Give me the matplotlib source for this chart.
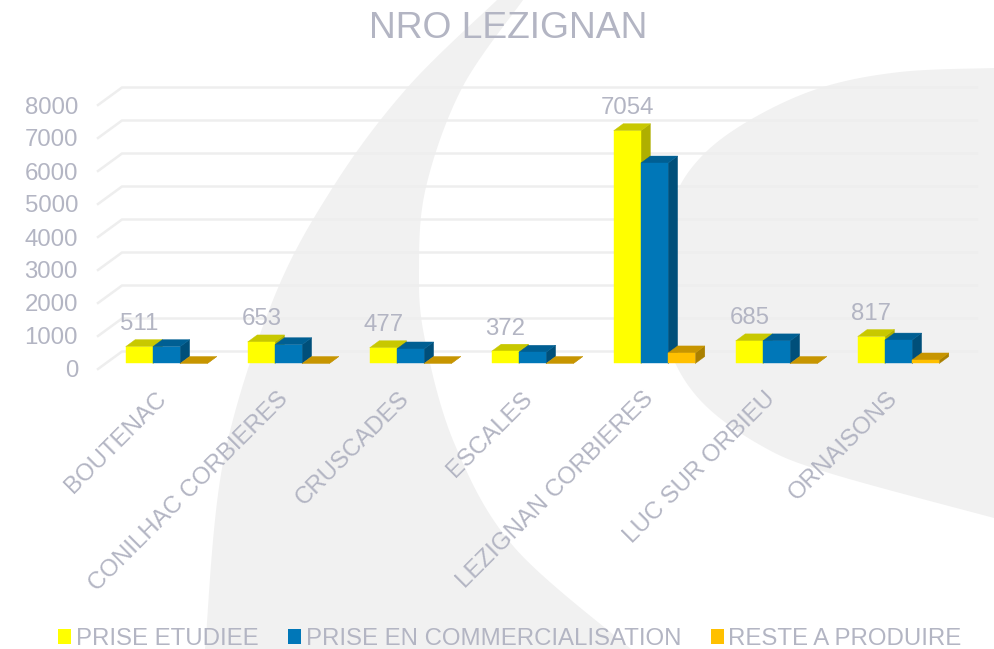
import numpy as np
import matplotlib
matplotlib.use('Agg')
from matplotlib import pyplot as plt
from matplotlib.patches import Polygon, Patch
from matplotlib.transforms import ScaledTranslation

categories = ['BOUTENAC', 'CONILHAC CORBIERES', 'CRUSCADES', 'ESCALES',
              'LEZIGNAN CORBIERES', 'LUC SUR ORBIEU', 'ORNAISONS']
prise_etudiee = [511, 653, 477, 372, 7054, 685, 817]
prise_commercialisation = [511, 570, 440, 340, 6075, 685, 710]
reste_a_produire = [0, 0, 0, 0, 320, 0, 107]
labels = ['PRISE ETUDIEE', 'PRISE EN COMMERCIALISATION', 'RESTE A PRODUIRE']
yticks = [0, 1000, 2000, 3000, 4000, 5000, 6000, 7000, 8000]

W, H = 994, 649
TEXT = '#b3b5c3'
GREY = '#f1f1f1'
GRID = '#eeeeee'
FS = 17.3

# front, top, side
colors = [('#ffff00', '#c8c800', '#afaf00'),
          ('#0077b8', '#005f93', '#004f7a'),
          ('#ffc000', '#c79500', '#aa8000')]

# background shapes, figure pixels
crescent_left = [(497, 0), (407, 88), (333, 187), (273, 300), (223, 463), (205, 649)]
crescent_right = [(631, 649), (514, 547), (455, 445), (425, 340), (419, 270), (426, 187),
                  (462, 88), (523, 0)]
swoosh = [(994, 68), (900, 72), (820, 88), (750, 120), (700, 158), (672, 205), (660, 280),
          (668, 345), (700, 400), (760, 445), (829, 473), (994, 518)]


def smooth(points, n=20):
    # catmull-rom through the points
    p = np.array([points[0]] + points + [points[-1]], dtype=float)
    out = []
    for i in range(1, len(p) - 2):
        for t in np.linspace(0, 1, n, endpoint=False):
            out.append(0.5 * (2 * p[i] + (p[i + 1] - p[i - 1]) * t
                              + (2 * p[i - 1] - 5 * p[i] + 4 * p[i + 1] - p[i + 2]) * t ** 2
                              + (3 * p[i] - p[i - 1] - 3 * p[i + 1] + p[i + 2]) * t ** 3))
    out.append(p[-2])
    return np.array(out)


def plot():
    plt.rcParams['font.family'] = ['Liberation Sans', 'DejaVu Sans']
    fig = plt.figure(figsize=(W / 100, H / 100), dpi=100)

    bg = fig.add_axes([0, 0, 1, 1], zorder=0)
    bg.set_xlim(0, W)
    bg.set_ylim(H, 0)
    bg.axis('off')
    bg.add_patch(Polygon(np.vstack([smooth(crescent_left), smooth(crescent_right)]), color=GREY, lw=0))
    bg.add_patch(Polygon(smooth(swoosh), color=GREY, lw=0))

    # axes covers the front edge of the floor up to the back wall
    px_y = 0.033
    ax = fig.add_axes([98 / W, 1 - 369 / H, (977 - 98) / W, (369 - 87.5) / H], zorder=1)
    ax.patch.set_alpha(0)
    ax.set_xlim((98 - 166.5) / 122, (977 - 166.5) / 122)
    ax.set_ylim(0, (369 - 87.5) / px_y)
    for s in ax.spines.values():
        s.set_visible(False)

    wall_x = (122 - 166.5) / 122
    wall_y = 17.5 / px_y
    for v in yticks:
        ax.plot([ax.get_xlim()[0], wall_x, ax.get_xlim()[1]], [v, v + wall_y, v + wall_y],
                color=GRID, lw=1.8, zorder=1, clip_on=False, solid_joinstyle='miter')

    base = 5.5 / px_y
    bw = 27.2 / 122
    dx = 9.5 / 122
    dy = 7 / px_y
    series = [prise_etudiee, prise_commercialisation, reste_a_produire]
    for i in range(len(categories)):
        for j in range(3):
            left = i - 1.5 * bw + j * bw
            right = left + bw
            y0 = base
            y1 = base + series[j][i]
            front, top, side = colors[j]
            z = 3 + i * 3 + j
            ax.add_patch(Polygon([(right, y0), (right + dx, y0 + dy), (right + dx, y1 + dy), (right, y1)],
                                 facecolor=side, edgecolor=side, lw=0.3, zorder=z))
            ax.add_patch(Polygon([(left, y1), (left + dx, y1 + dy), (right + dx, y1 + dy), (right, y1)],
                                 facecolor=top, edgecolor=top, lw=0.3, zorder=z))
            if series[j][i] > 0:
                ax.add_patch(Polygon([(left, y0), (right, y0), (right, y1), (left, y1)],
                                     facecolor=front, edgecolor=front, lw=0.3, zorder=z))
        ax.annotate(str(prise_etudiee[i]), (i - bw, base + prise_etudiee[i]), xytext=(0, 16.3),
                    textcoords='offset points', ha='center', va='center', color=TEXT,
                    fontsize=FS, zorder=40)

    ax.set_yticks(yticks)
    ax.set_xticks(range(len(categories)))
    ax.set_xticklabels(categories, rotation=45, ha='right', va='center', rotation_mode='anchor')
    ax.tick_params(axis='y', length=0, pad=14.4, labelcolor=TEXT, labelsize=FS)
    ax.tick_params(axis='x', length=0, pad=19, labelcolor=TEXT, labelsize=FS)
    shift = ScaledTranslation(-4 / 100, 0, fig.dpi_scale_trans)
    for lab in ax.get_xticklabels():
        lab.set_transform(lab.get_transform() + shift)

    fig.text(508 / W, 1 - 28 / H, 'NRO LEZIGNAN', ha='center', va='center', color=TEXT, fontsize=26.8)

    handles = [Patch(facecolor=colors[k][0], label=labels[k]) for k in range(3)]
    fig.legend(handles=handles, ncol=3, frameon=False, loc='center left',
               bbox_to_anchor=(58 / W, 1 - 639 / H), borderaxespad=0, borderpad=0,
               prop={'size': 17.25}, labelcolor=TEXT, handlelength=0.55, handleheight=0.55,
               handletextpad=0.2, columnspacing=1.22)

    fig.savefig('out.png', dpi=100)


if __name__ == '__main__':
    plot()
